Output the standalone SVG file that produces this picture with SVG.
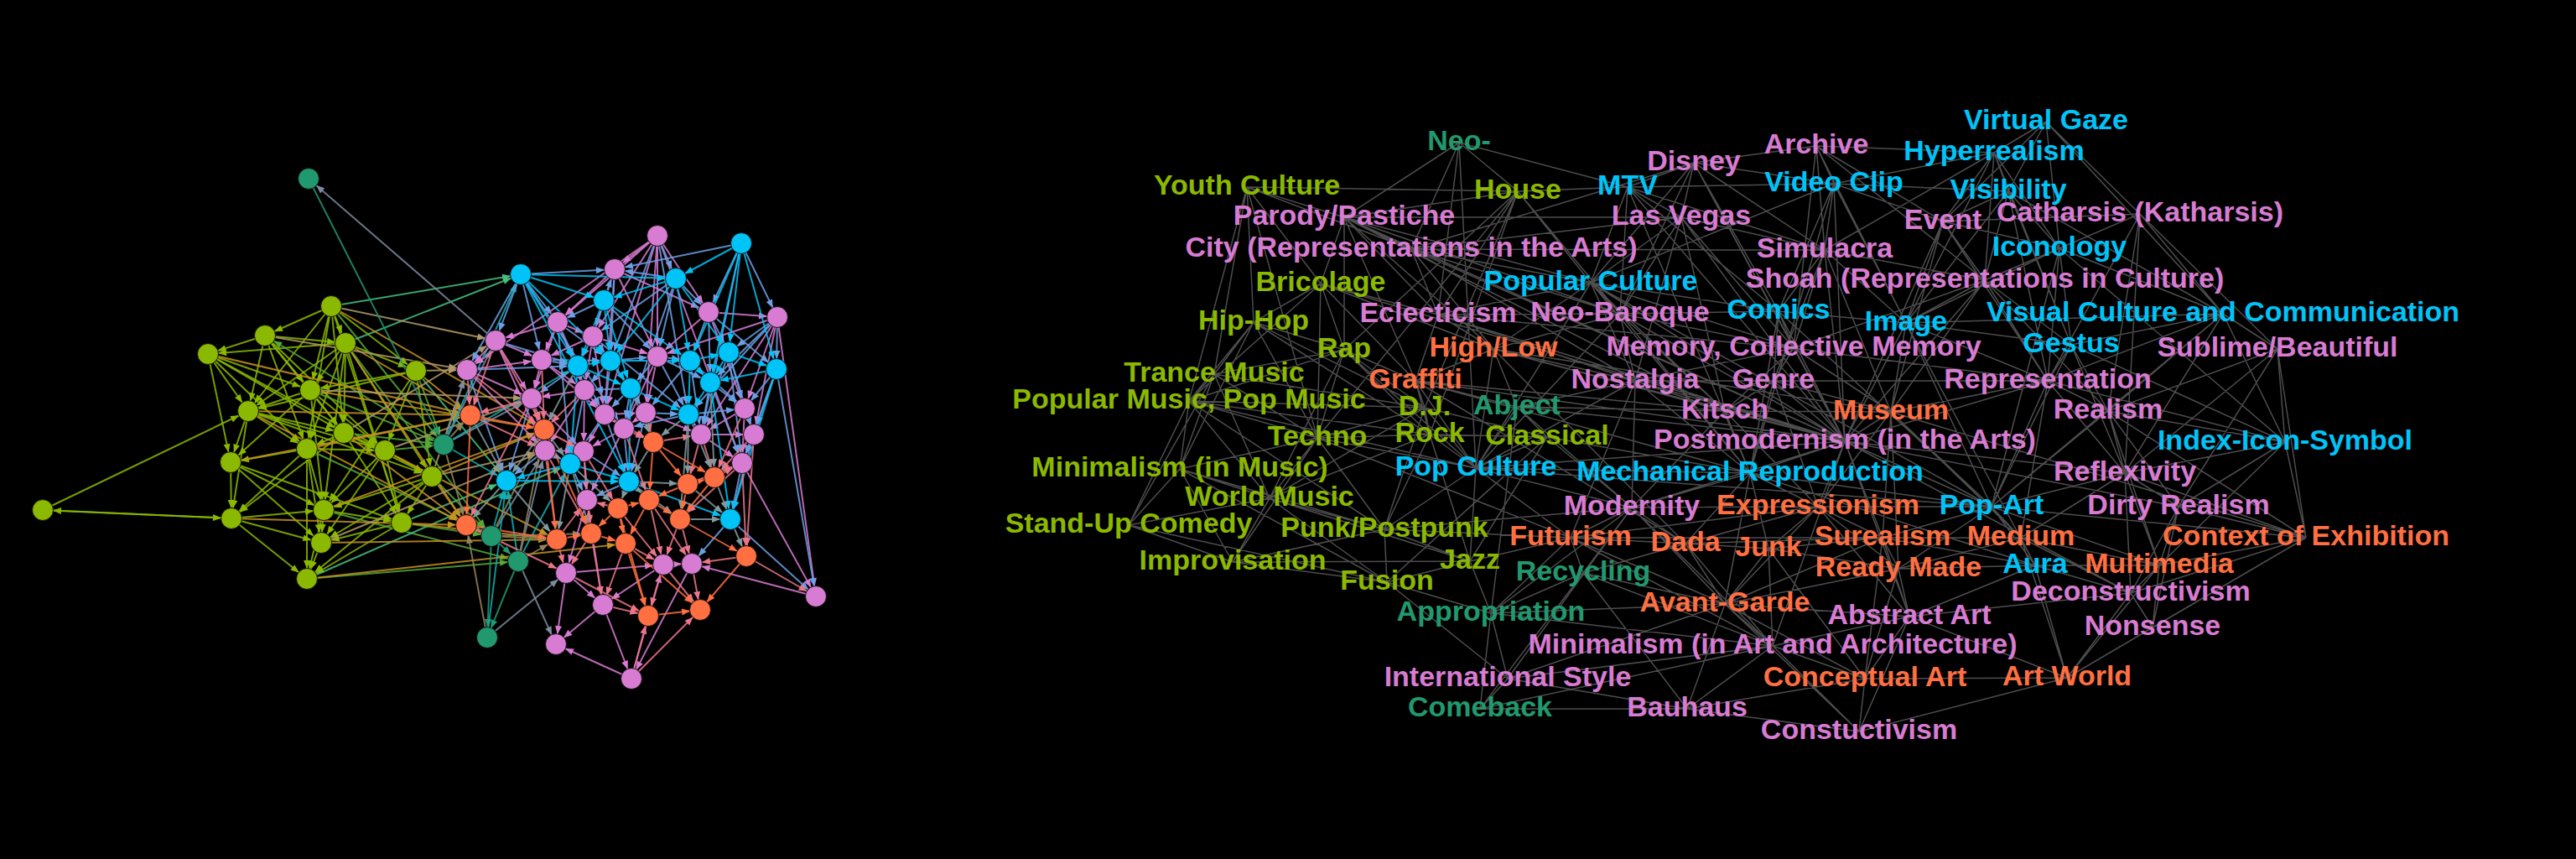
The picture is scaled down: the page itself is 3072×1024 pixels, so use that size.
<svg xmlns="http://www.w3.org/2000/svg" width="3072" height="1024" viewBox="0 0 3072 1024">
<style>
.nd circle{stroke:#141414;stroke-width:1}
.g{fill:#8BB800}.t{fill:#21996E}.p{fill:#D87BD2}.c{fill:#00C4F8}.o{fill:#FF6F41}
.lb text{font-family:"Liberation Sans",Arial,sans-serif;font-size:34px;font-weight:bold;text-anchor:middle}
.le path{fill:none}
</style>
<defs>
<marker id="a-gg" markerUnits="userSpaceOnUse" markerWidth="30" markerHeight="30" orient="auto" overflow="visible"><path d="M-22-4L-12 0L-22 4z" fill="#8BB800"/></marker>
<marker id="a-gt" markerUnits="userSpaceOnUse" markerWidth="30" markerHeight="30" orient="auto" overflow="visible"><path d="M-22-4L-12 0L-22 4z" fill="#56A837"/></marker>
<marker id="a-gc" markerUnits="userSpaceOnUse" markerWidth="30" markerHeight="30" orient="auto" overflow="visible"><path d="M-22-4L-12 0L-22 4z" fill="#46BE7C"/></marker>
<marker id="a-go" markerUnits="userSpaceOnUse" markerWidth="30" markerHeight="30" orient="auto" overflow="visible"><path d="M-22-4L-12 0L-22 4z" fill="#C59320"/></marker>
<marker id="a-gp" markerUnits="userSpaceOnUse" markerWidth="30" markerHeight="30" orient="auto" overflow="visible"><path d="M-22-4L-12 0L-22 4z" fill="#B19969"/></marker>
<marker id="a-tt" markerUnits="userSpaceOnUse" markerWidth="30" markerHeight="30" orient="auto" overflow="visible"><path d="M-22-4L-12 0L-22 4z" fill="#21996E"/></marker>
<marker id="a-tp" markerUnits="userSpaceOnUse" markerWidth="30" markerHeight="30" orient="auto" overflow="visible"><path d="M-22-4L-12 0L-22 4z" fill="#7D8AA0"/></marker>
<marker id="a-tc" markerUnits="userSpaceOnUse" markerWidth="30" markerHeight="30" orient="auto" overflow="visible"><path d="M-22-4L-12 0L-22 4z" fill="#11AFB3"/></marker>
<marker id="a-to" markerUnits="userSpaceOnUse" markerWidth="30" markerHeight="30" orient="auto" overflow="visible"><path d="M-22-4L-12 0L-22 4z" fill="#908458"/></marker>
<marker id="a-pp" markerUnits="userSpaceOnUse" markerWidth="30" markerHeight="30" orient="auto" overflow="visible"><path d="M-22-4L-12 0L-22 4z" fill="#D87BD2"/></marker>
<marker id="a-pc" markerUnits="userSpaceOnUse" markerWidth="30" markerHeight="30" orient="auto" overflow="visible"><path d="M-22-4L-12 0L-22 4z" fill="#6CA0E5"/></marker>
<marker id="a-cc" markerUnits="userSpaceOnUse" markerWidth="30" markerHeight="30" orient="auto" overflow="visible"><path d="M-22-4L-12 0L-22 4z" fill="#00C4F8"/></marker>
<marker id="a-po" markerUnits="userSpaceOnUse" markerWidth="30" markerHeight="30" orient="auto" overflow="visible"><path d="M-22-4L-12 0L-22 4z" fill="#EC758A"/></marker>
<marker id="a-co" markerUnits="userSpaceOnUse" markerWidth="30" markerHeight="30" orient="auto" overflow="visible"><path d="M-22-4L-12 0L-22 4z" fill="#809A9D"/></marker>
<marker id="a-oo" markerUnits="userSpaceOnUse" markerWidth="30" markerHeight="30" orient="auto" overflow="visible"><path d="M-22-4L-12 0L-22 4z" fill="#FF6F41"/></marker>
</defs>
<rect x="0" y="0" width="3072" height="1024" fill="#000"/>

<g id="connectors">
<g id="edges-left" class="le" stroke-width="2" stroke-opacity="0.85">
<g stroke="#8BB800" marker-end="url(#a-gg)">
<path d="M395 365L316 400"/><path d="M395 365L412 409"/><path d="M395 365L496 442"/><path d="M395 365L370 465"/><path d="M395 365L296 490"/><path d="M395 365L366 535"/><path d="M395 365L410 516"/><path d="M395 365L479 623"/>
<path d="M316 400L412 409"/><path d="M316 400L248 422"/><path d="M316 400L370 465"/><path d="M316 400L296 490"/><path d="M316 400L410 516"/><path d="M316 400L366 535"/><path d="M316 400L459 537"/>
<path d="M412 409L248 422"/><path d="M412 409L496 442"/><path d="M412 409L370 465"/><path d="M412 409L296 490"/><path d="M412 409L410 516"/><path d="M412 409L366 535"/><path d="M412 409L515 568"/><path d="M412 409L386 608"/><path d="M412 409L479 623"/>
<path d="M248 422L370 465"/><path d="M248 422L296 490"/><path d="M248 422L410 516"/><path d="M248 422L459 537"/><path d="M248 422L275 551"/><path d="M248 422L366 535"/>
<path d="M496 442L370 465"/><path d="M496 442L296 490"/><path d="M496 442L459 537"/><path d="M496 442L515 568"/><path d="M496 442L386 608"/>
<path d="M370 465L296 490"/><path d="M370 465L410 516"/><path d="M370 465L459 537"/><path d="M370 465L275 551"/><path d="M370 465L386 608"/>
<path d="M296 490L410 516"/><path d="M296 490L366 535"/><path d="M296 490L459 537"/><path d="M296 490L275 551"/><path d="M296 490L276 618"/><path d="M296 490L515 568"/>
<path d="M410 516L366 535"/><path d="M410 516L459 537"/><path d="M410 516L515 568"/><path d="M410 516L276 618"/><path d="M410 516L479 623"/>
<path d="M366 535L459 537"/><path d="M366 535L275 551"/><path d="M366 535L276 618"/><path d="M366 535L386 608"/><path d="M366 535L383 647"/><path d="M366 535L366 690"/>
<path d="M459 537L515 568"/><path d="M459 537L479 623"/><path d="M459 537L386 608"/><path d="M459 537L383 647"/>
<path d="M51 608L296 490"/><path d="M51 608L276 618"/><path d="M276 618L51 608"/>
<path d="M275 551L276 618"/><path d="M275 551L386 608"/><path d="M275 551L383 647"/><path d="M275 551L479 623"/>
<path d="M515 568L386 608"/><path d="M515 568L479 623"/><path d="M515 568L383 647"/><path d="M515 568L366 690"/>
<path d="M276 618L386 608"/><path d="M276 618L383 647"/><path d="M276 618L366 690"/>
<path d="M386 608L479 623"/><path d="M386 608L383 647"/><path d="M386 608L366 690"/>
<path d="M479 623L383 647"/><path d="M479 623L366 690"/><path d="M383 647L366 690"/>
</g>
<g stroke="#56A837" marker-end="url(#a-gt)">
<path d="M395 365L529 530"/><path d="M529 530L316 400"/><path d="M412 409L586 639"/><path d="M496 442L529 530"/><path d="M410 516L529 530"/><path d="M366 535L586 639"/><path d="M459 537L529 530"/><path d="M515 568L586 639"/><path d="M386 608L618 669"/><path d="M479 623L586 639"/><path d="M366 690L618 669"/><path d="M370 465L529 530"/>
</g>
<g stroke="#46BE7C" marker-end="url(#a-gc)">
<path d="M395 365L621 327"/><path d="M412 409L621 327"/><path d="M479 623L604 573"/><path d="M366 690L680 553"/><path d="M496 442L604 573"/>
</g>
<g stroke="#C59320" marker-end="url(#a-go)">
<path d="M412 409L561 495"/><path d="M412 409L556 626"/><path d="M496 442L561 495"/><path d="M296 490L561 495"/><path d="M296 490L556 626"/><path d="M410 516L556 626"/><path d="M366 535L561 495"/><path d="M459 537L664 643"/><path d="M515 568L556 626"/><path d="M515 568L649 512"/><path d="M386 608L649 512"/><path d="M479 623L664 643"/><path d="M383 647L664 643"/><path d="M366 690L746 648"/><path d="M276 618L556 626"/><path d="M275 551L561 495"/><path d="M370 465L649 512"/><path d="M248 422L561 495"/><path d="M395 365L649 512"/>
</g>
<g stroke="#B19969" marker-end="url(#a-gp)">
<path d="M496 442L557 441"/><path d="M410 516L591 406"/><path d="M459 537L634 475"/><path d="M515 568L557 441"/><path d="M515 568L650 537"/><path d="M383 647L650 537"/><path d="M316 400L557 441"/><path d="M395 365L591 406"/><path d="M370 465L634 475"/>
</g>
<g stroke="#21996E" marker-end="url(#a-tt)">
<path d="M368 213L529 530"/><path d="M586 639L618 669"/><path d="M586 639L581 760"/><path d="M618 669L581 760"/>
</g>
<g stroke="#7D8AA0" marker-end="url(#a-tp)">
<path d="M591 406L368 213"/><path d="M529 530L557 441"/><path d="M529 530L591 406"/><path d="M529 530L634 475"/><path d="M586 639L650 537"/><path d="M618 669L650 537"/><path d="M618 669L663 768"/><path d="M581 760L675 683"/>
</g>
<g stroke="#11AFB3" marker-end="url(#a-tc)">
<path d="M529 530L621 327"/><path d="M529 530L604 573"/><path d="M586 639L604 573"/><path d="M618 669L604 573"/><path d="M618 669L680 553"/><path d="M581 760L604 573"/><path d="M529 530L689 436"/>
</g>
<g stroke="#908458" marker-end="url(#a-to)">
<path d="M529 530L561 495"/><path d="M529 530L556 626"/><path d="M586 639L556 626"/><path d="M586 639L664 643"/><path d="M586 639L705 636"/><path d="M618 669L664 643"/><path d="M581 760L556 626"/><path d="M586 639L649 512"/><path d="M618 669L649 512"/>
</g>
<g stroke="#D87BD2" marker-end="url(#a-pp)">
<path d="M784 281L733 321"/><path d="M784 281L665 384"/><path d="M784 281L707 401"/><path d="M784 281L845 372"/><path d="M784 281L784 425"/><path d="M784 281L770 492"/><path d="M784 281L721 494"/><path d="M784 281L557 441"/><path d="M784 281L885 552"/>
<path d="M733 321L665 384"/><path d="M733 321L707 401"/><path d="M733 321L784 425"/><path d="M733 321L845 372"/><path d="M733 321L721 494"/>
<path d="M845 372L927 378"/><path d="M845 372L784 425"/><path d="M845 372L888 487"/>
<path d="M927 378L888 487"/><path d="M927 378L899 518"/><path d="M927 378L836 518"/><path d="M927 378L784 425"/><path d="M927 378L973 711"/>
<path d="M665 384L707 401"/><path d="M665 384L591 406"/><path d="M665 384L646 429"/><path d="M665 384L697 465"/><path d="M665 384L634 475"/>
<path d="M707 401L646 429"/><path d="M707 401L784 425"/><path d="M707 401L697 465"/><path d="M707 401L721 494"/>
<path d="M591 406L557 441"/><path d="M591 406L646 429"/><path d="M591 406L634 475"/><path d="M591 406L650 537"/>
<path d="M557 441L646 429"/><path d="M557 441L634 475"/><path d="M557 441L650 537"/>
<path d="M646 429L697 465"/><path d="M646 429L634 475"/><path d="M646 429L721 494"/>
<path d="M784 425L770 492"/><path d="M784 425L744 511"/>
<path d="M697 465L634 475"/><path d="M697 465L721 494"/><path d="M697 465L650 537"/><path d="M697 465L696 538"/>
<path d="M634 475L650 537"/><path d="M634 475L696 538"/>
<path d="M721 494L770 492"/><path d="M721 494L744 511"/><path d="M721 494L696 538"/>
<path d="M770 492L744 511"/><path d="M770 492L836 518"/>
<path d="M888 487L836 518"/><path d="M888 487L899 518"/><path d="M888 487L885 552"/>
<path d="M744 511L696 538"/><path d="M744 511L700 596"/>
<path d="M836 518L899 518"/><path d="M836 518L885 552"/><path d="M899 518L885 552"/>
<path d="M650 537L696 538"/><path d="M696 538L700 596"/><path d="M885 552L973 711"/>
<path d="M700 596L675 683"/><path d="M700 596L719 721"/><path d="M675 683L719 721"/><path d="M675 683L663 768"/><path d="M675 683L791 673"/>
<path d="M791 673L825 672"/><path d="M791 673L719 721"/><path d="M825 672L753 809"/>
<path d="M719 721L663 768"/><path d="M719 721L753 809"/><path d="M753 809L663 768"/><path d="M753 809L791 673"/><path d="M973 711L825 672"/>
</g>
<g stroke="#6CA0E5" marker-end="url(#a-pc)">
<path d="M784 281L806 332"/><path d="M784 281L728 430"/><path d="M784 281L821 494"/>
<path d="M884 290L845 372"/><path d="M884 290L733 321"/><path d="M884 290L927 378"/><path d="M884 290L836 518"/>
<path d="M806 332L733 321"/><path d="M806 332L845 372"/><path d="M806 332L784 425"/><path d="M806 332L707 401"/><path d="M806 332L744 511"/>
<path d="M621 327L591 406"/><path d="M621 327L665 384"/><path d="M621 327L646 429"/><path d="M621 327L557 441"/><path d="M621 327L733 321"/><path d="M621 327L744 511"/>
<path d="M720 358L733 321"/><path d="M720 358L665 384"/><path d="M720 358L707 401"/><path d="M720 358L784 425"/>
<path d="M733 321L728 430"/><path d="M845 372L869 420"/><path d="M845 372L823 430"/><path d="M845 372L847 456"/><path d="M845 372L926 440"/>
<path d="M927 378L926 440"/><path d="M927 378L869 420"/><path d="M927 378L847 456"/><path d="M927 378L821 494"/>
<path d="M665 384L689 436"/><path d="M665 384L728 430"/><path d="M665 384L680 553"/>
<path d="M707 401L689 436"/><path d="M707 401L728 430"/><path d="M707 401L752 463"/><path d="M707 401L821 494"/>
<path d="M591 406L689 436"/><path d="M557 441L604 573"/><path d="M557 441L689 436"/><path d="M646 429L689 436"/><path d="M646 429L728 430"/>
<path d="M689 436L697 465"/><path d="M689 436L634 475"/><path d="M689 436L721 494"/>
<path d="M728 430L784 425"/><path d="M728 430L697 465"/><path d="M728 430L721 494"/><path d="M728 430L770 492"/>
<path d="M784 425L823 430"/><path d="M784 425L752 463"/><path d="M784 425L821 494"/><path d="M784 425L847 456"/>
<path d="M823 430L888 487"/><path d="M823 430L836 518"/><path d="M823 430L770 492"/>
<path d="M869 420L888 487"/><path d="M869 420L836 518"/><path d="M869 420L899 518"/><path d="M869 420L885 552"/>
<path d="M926 440L888 487"/><path d="M926 440L899 518"/><path d="M926 440L885 552"/><path d="M926 440L973 711"/>
<path d="M847 456L888 487"/><path d="M847 456L836 518"/><path d="M847 456L885 552"/>
<path d="M752 463L721 494"/><path d="M752 463L770 492"/><path d="M752 463L744 511"/><path d="M752 463L697 465"/>
<path d="M697 465L680 553"/><path d="M634 475L604 573"/><path d="M721 494L750 574"/><path d="M721 494L680 553"/>
<path d="M770 492L821 494"/><path d="M770 492L750 574"/>
<path d="M821 494L888 487"/><path d="M821 494L836 518"/><path d="M821 494L744 511"/>
<path d="M744 511L750 574"/><path d="M899 518L871 619"/><path d="M650 537L680 553"/><path d="M650 537L604 573"/><path d="M696 538L680 553"/><path d="M696 538L750 574"/>
<path d="M680 553L700 596"/><path d="M750 574L700 596"/><path d="M885 552L871 619"/><path d="M871 619L973 711"/><path d="M871 619L825 672"/>
</g>
<g stroke="#00C4F8" marker-end="url(#a-cc)">
<path d="M884 290L806 332"/><path d="M884 290L823 430"/><path d="M884 290L869 420"/><path d="M884 290L926 440"/><path d="M884 290L847 456"/>
<path d="M806 332L720 358"/><path d="M806 332L823 430"/><path d="M806 332L869 420"/><path d="M806 332L728 430"/>
<path d="M621 327L720 358"/><path d="M621 327L689 436"/><path d="M621 327L728 430"/><path d="M621 327L806 332"/><path d="M621 327L750 574"/>
<path d="M720 358L689 436"/><path d="M720 358L728 430"/><path d="M720 358L823 430"/><path d="M720 358L752 463"/>
<path d="M689 436L728 430"/><path d="M689 436L752 463"/><path d="M689 436L680 553"/>
<path d="M728 430L752 463"/><path d="M728 430L823 430"/>
<path d="M823 430L869 420"/><path d="M823 430L847 456"/><path d="M823 430L821 494"/>
<path d="M869 420L926 440"/><path d="M869 420L847 456"/><path d="M926 440L847 456"/><path d="M926 440L871 619"/>
<path d="M847 456L821 494"/><path d="M847 456L871 619"/><path d="M752 463L821 494"/><path d="M752 463L750 574"/>
<path d="M680 553L604 573"/><path d="M680 553L750 574"/><path d="M604 573L750 574"/><path d="M750 574L871 619"/>
</g>
<g stroke="#EC758A" marker-end="url(#a-po)">
<path d="M591 406L561 495"/><path d="M591 406L649 512"/><path d="M557 441L561 495"/><path d="M557 441L649 512"/><path d="M646 429L649 512"/><path d="M697 465L649 512"/>
<path d="M634 475L561 495"/><path d="M634 475L649 512"/><path d="M634 475L556 626"/>
<path d="M721 494L779 527"/><path d="M770 492L779 527"/><path d="M744 511L779 527"/><path d="M744 511L774 596"/>
<path d="M779 527L836 518"/><path d="M836 518L852 569"/><path d="M836 518L820 577"/><path d="M899 518L852 569"/><path d="M899 518L890 663"/>
<path d="M561 495L650 537"/><path d="M649 512L650 537"/><path d="M649 512L696 538"/><path d="M888 487L852 569"/>
<path d="M650 537L664 643"/><path d="M650 537L705 636"/><path d="M696 538L705 636"/><path d="M696 538L737 606"/>
<path d="M820 577L885 552"/><path d="M852 569L885 552"/><path d="M885 552L811 619"/><path d="M885 552L890 663"/>
<path d="M737 606L700 596"/><path d="M737 606L791 673"/><path d="M774 596L791 673"/><path d="M774 596L825 672"/><path d="M811 619L825 672"/><path d="M811 619L791 673"/>
<path d="M556 626L675 683"/><path d="M664 643L675 683"/><path d="M664 643L700 596"/><path d="M705 636L700 596"/><path d="M705 636L675 683"/><path d="M705 636L719 721"/>
<path d="M746 648L791 673"/><path d="M746 648L719 721"/><path d="M890 663L973 711"/><path d="M890 663L825 672"/>
<path d="M675 683L773 734"/><path d="M791 673L773 734"/><path d="M791 673L835 727"/><path d="M825 672L835 727"/><path d="M719 721L773 734"/><path d="M753 809L773 734"/><path d="M753 809L835 727"/>
</g>
<g stroke="#809A9D" marker-end="url(#a-co)">
<path d="M752 463L779 527"/><path d="M821 494L779 527"/><path d="M821 494L852 569"/><path d="M821 494L820 577"/><path d="M847 456L852 569"/><path d="M689 436L649 512"/>
<path d="M680 553L664 643"/><path d="M680 553L705 636"/><path d="M680 553L737 606"/><path d="M649 512L680 553"/><path d="M649 512L604 573"/><path d="M561 495L604 573"/>
<path d="M604 573L556 626"/><path d="M604 573L664 643"/><path d="M750 574L737 606"/><path d="M750 574L774 596"/><path d="M750 574L820 577"/><path d="M750 574L811 619"/>
<path d="M779 527L750 574"/><path d="M820 577L871 619"/><path d="M852 569L871 619"/><path d="M811 619L871 619"/><path d="M871 619L890 663"/><path d="M821 494L811 619"/>
</g>
<g stroke="#FF6F41" marker-end="url(#a-oo)">
<path d="M561 495L649 512"/><path d="M561 495L556 626"/><path d="M649 512L664 643"/><path d="M649 512L705 636"/>
<path d="M779 527L820 577"/><path d="M779 527L774 596"/><path d="M779 527L852 569"/><path d="M820 577L852 569"/><path d="M820 577L774 596"/><path d="M820 577L811 619"/><path d="M852 569L811 619"/>
<path d="M737 606L774 596"/><path d="M737 606L705 636"/><path d="M737 606L746 648"/><path d="M774 596L811 619"/><path d="M774 596L746 648"/><path d="M811 619L890 663"/>
<path d="M556 626L664 643"/><path d="M664 643L705 636"/><path d="M705 636L746 648"/><path d="M746 648L773 734"/><path d="M890 663L835 727"/><path d="M773 734L835 727"/><path d="M746 648L835 727"/><path d="M737 606L773 734"/>
</g>
</g>

<g id="edges-right">
<path fill="none" stroke="#9a9a9a" stroke-width="1.5" stroke-opacity="0.5" d="M1740 170L1603 259M1740 170L1683 297M1740 170L1715 375M1740 170L1760 558M1740 170L1941 223M1740 170L1810 228
M1487 223L1810 228M1487 223L1495 384M1487 223L1448 446M1487 223L1575 338M1487 223L1418 478M1487 223L1683 297M1487 223L1603 259M1487 223L1571 522
M1810 228L1603 259M1810 228L1941 223M1810 228L1715 375M1810 228L1603 417M1810 228L1699 486M1810 228L1705 518M1810 228L1571 522M1810 228L1897 337M1810 228L1932 374
M1603 259L1683 297M1603 259L1575 338M1603 259L1715 375M1603 259L1781 416M1603 259L1688 454M1603 259L2005 259M1603 259L1897 337M1603 259L1932 374M1603 259L2200 526M1603 259L2057 490M1603 259L1603 417
M1683 297L2020 194M1683 297L2005 259M1683 297L1715 375M1683 297L1897 337M1683 297L1932 374M1683 297L2176 298M1683 297L1950 454M1683 297L2200 526M1683 297L1781 416
M1575 338L1495 384M1575 338L1603 417M1575 338L1715 375M1575 338L1571 522M1575 338L1418 478M1575 338L1688 454M1575 338L2200 526M1575 338L1781 416
M1495 384L1603 417M1495 384L1448 446M1495 384L1418 478M1495 384L1571 522M1495 384L1407 559M1495 384L1699 486M1495 384L1705 518
M1603 417L1448 446M1603 417L1418 478M1603 417L1699 486M1603 417L1571 522M1603 417L1705 518M1603 417L1688 454M1603 417L1760 558M1603 417L1514 594
M1715 375L1781 416M1715 375L1932 374M1715 375L1897 337M1715 375L2200 526M1715 375L1688 454M1715 375L1950 454M1715 375L2139 415M1715 375L2057 490
M1781 416L1688 454M1781 416L1897 337M1781 416L1760 558M1781 416L2200 526M1781 416L2057 490M1781 416L1932 374M1781 416L1950 454M1781 416L1809 485M1781 416L2255 491M1781 416L2010 648
M1448 446L1418 478M1448 446L1571 522M1448 446L1407 559M1448 446L1514 594M1448 446L1699 486M1448 446L1346 626
M1688 454L1760 558M1688 454L1809 485M1688 454L1705 518M1688 454L2200 526M1688 454L2087 564M1688 454L2057 490M1688 454L1699 486M1688 454L2010 648
M1418 478L1571 522M1418 478L1407 559M1418 478L1705 518M1418 478L1514 594M1418 478L1699 486M1418 478L1651 631M1418 478L1760 558M1418 478L1346 626
M1699 486L1571 522M1699 486L1705 518M1699 486L1760 558M1699 486L1845 521M1699 486L1514 594M1699 486L1651 631
M1809 485L1778 731M1809 485L1950 454M1809 485L1946 605M1809 485L2057 490M1809 485L2200 526M1809 485L1845 521M1809 485L1760 558
M1571 522L1407 559M1571 522L1514 594M1571 522L1705 518M1571 522L1651 631M1571 522L1760 558M1571 522L1470 670M1571 522L1873 641
M1705 518L1845 521M1705 518L1760 558M1705 518L1651 631M1705 518L1753 669M1705 518L1514 594
M1845 521L1760 558M1845 521L1753 669M1845 521L1654 694M1845 521L2087 564M1845 521L1946 605
M1407 559L1514 594M1407 559L1346 626M1407 559L1470 670M1407 559L1651 631M1407 559L1654 694
M1760 558L1897 337M1760 558L2087 564M1760 558L1946 605M1760 558L1651 631M1760 558L1753 669M1760 558L2200 526M1760 558L1932 374M1760 558L1950 454M1760 558L2375 604M1760 558L1873 641
M1514 594L1346 626M1514 594L1651 631M1514 594L1470 670M1514 594L1654 694M1514 594L1753 669
M1346 626L1470 670M1346 626L1654 694
M1651 631L1470 670M1651 631L1753 669M1651 631L1654 694M1651 631L1873 641M1651 631L1946 605
M1470 670L1654 694M1470 670L1753 669
M1753 669L1654 694M1753 669L1778 731M1753 669L1873 641
M1654 694L1778 731M1654 694L1798 809
M1778 731L1798 809M1778 731L1765 845M1778 731L1888 683M1778 731L1873 641M1778 731L1946 605M1778 731L2057 720M1778 731L2114 770
M1798 809L1765 845M1798 809L2114 770M1798 809L2012 845M1798 809L2057 720M1798 809L1946 605
M1765 845L2012 845M1765 845L2114 770M1765 845L1888 683
M2020 194L2166 174M2020 194L1941 223M2020 194L2187 219M2020 194L2005 259M2020 194L2176 298M2020 194L1897 337M2020 194L1932 374M2020 194L2200 526M2020 194L2121 371M2020 194L2139 415
M2166 174L2187 219M2166 174L2378 182M2166 174L2176 298M2166 174L2139 415M2166 174L2317 264M2166 174L2367 334M2166 174L2273 385
M2378 182L2440 145M2378 182L2187 219M2378 182L2395 228M2378 182L2317 264M2378 182L2176 298M2378 182L2456 296M2378 182L2273 385M2378 182L2367 334M2378 182L2200 526M2378 182L2470 411
M2440 145L2395 228M2440 145L2552 255M2440 145L2317 264M2440 145L2456 296M2440 145L2651 374
M1941 223L2187 219M1941 223L2005 259M1941 223L1897 337M1941 223L2121 371M1941 223L1932 374M1941 223L2200 526M1941 223L2087 564M1941 223L2176 298
M2187 219L2395 228M2187 219L2317 264M2187 219L2176 298M2187 219L2121 371M2187 219L2273 385M2187 219L2087 564M2187 219L2200 526M2187 219L1897 337
M2395 228L2317 264M2395 228L2456 296M2395 228L2273 385M2395 228L2651 374M2395 228L2470 411M2395 228L2367 334M2395 228L2442 454
M2005 259L2176 298M2005 259L1932 374M2005 259L1897 337M2005 259L2200 526M2005 259L1950 454M2005 259L2057 490M2005 259L2139 415
M2317 264L2552 255M2317 264L2456 296M2317 264L2367 334M2317 264L2273 385M2317 264L2442 454M2317 264L2255 491M2317 264L2200 526
M2552 255L2456 296M2552 255L2367 334M2552 255L2651 374M2552 255L2716 416M2552 255L2442 454M2552 255L2514 490M2552 255L2534 564
M2176 298L2367 334M2176 298L2121 371M2176 298L2273 385M2176 298L2139 415M2176 298L2200 526M2176 298L2115 454M2176 298L2255 491
M2456 296L2367 334M2456 296L2273 385M2456 296L2651 374M2456 296L2470 411M2456 296L2442 454M2456 296L2375 604M2456 296L2725 527
M1897 337L1932 374M1897 337L2121 371M1897 337L1950 454M1897 337L2057 490M1897 337L2200 526M1897 337L2087 564M1897 337L2139 415M1897 337L2375 604
M2367 334L2273 385M2367 334L2139 415M2367 334L2442 454M2367 334L2255 491M2367 334L2200 526M2367 334L2470 411M2367 334L2514 490
M1932 374L2121 371M1932 374L2139 415M1932 374L1950 454M1932 374L2057 490M1932 374L2200 526M1932 374L2087 564
M2121 371L2273 385M2121 371L2139 415M2121 371L2115 454M2121 371L2200 526M2121 371L2087 564M2121 371L2375 604
M2273 385L2470 411M2273 385L2442 454M2273 385L2651 374M2273 385L2255 491M2273 385L2200 526M2273 385L2375 604M2273 385L2427 674
M2651 374L2470 411M2651 374L2716 416M2651 374L2442 454M2651 374L2725 527M2651 374L2514 490M2651 374L2534 564M2651 374L2375 604
M2139 415L1950 454M2139 415L2115 454M2139 415L2442 454M2139 415L2057 490M2139 415L2255 491M2139 415L2200 526
M2470 411L2442 454M2470 411L2514 490M2470 411L2725 527M2470 411L2375 604M2470 411L2534 564
M2716 416L2725 527M2716 416L2534 564M2716 416L2598 604M2716 416L2750 641M2716 416L2514 490
M1950 454L2115 454M1950 454L2057 490M1950 454L2200 526M1950 454L2087 564M1950 454L1946 605M1950 454L1873 641
M2115 454L2057 490M2115 454L2255 491M2115 454L2200 526M2115 454L2087 564M2115 454L2168 604M2115 454L2442 454
M2442 454L2255 491M2442 454L2514 490M2442 454L2200 526M2442 454L2375 604M2442 454L2534 564M2442 454L2410 641M2442 454L2725 527
M2057 490L2200 526M2057 490L2087 564M2057 490L1946 605M2057 490L2168 604M2057 490L2255 491
M2255 491L2200 526M2255 491L2168 604M2255 491L2375 604M2255 491L2245 641M2255 491L2750 641M2255 491L2264 678M2255 491L2410 641
M2514 490L2725 527M2514 490L2534 564M2514 490L2598 604M2514 490L2375 604M2514 490L2575 674
M2200 526L2087 564M2200 526L2168 604M2200 526L2375 604M2200 526L2534 564M2200 526L2245 641M2200 526L1946 605M2200 526L2541 707M2200 526L2277 735M2200 526L2114 770M2200 526L2598 604
M2725 527L2534 564M2725 527L2598 604M2725 527L2750 641M2725 527L2575 674
M2087 564L1946 605M2087 564L2168 604M2087 564L2375 604M2087 564L2010 648M2087 564L2109 654M2087 564L2057 720M2087 564L2427 674
M1946 605L2168 604M1946 605L1873 641M1946 605L2010 648M1946 605L1888 683M1946 605L2057 720M1946 605L2114 770
M2168 604L2375 604M2168 604L2010 648M2168 604L2109 654M2168 604L2245 641M2168 604L1873 641M2168 604L2057 720M2168 604L2277 735M2168 604L2264 678
M2375 604L2245 641M2375 604L2410 641M2375 604L2427 674M2375 604L2534 564M2375 604L2264 678M2375 604L2575 674
M2534 564L2598 604M2534 564L2410 641M2534 564L2575 674M2534 564L2750 641M2534 564L2541 707
M2598 604L2750 641M2598 604L2575 674M2598 604L2541 707M2598 604L2567 748
M1873 641L2010 648M1873 641L1888 683M1873 641L2057 720M1873 641L2114 770M1873 641L2245 641
M2010 648L2109 654M2010 648L2057 720M2010 648L1888 683M2010 648L2245 641M2010 648L2114 770
M2109 654L2245 641M2109 654L2264 678M2109 654L2057 720M2109 654L2224 809M2109 654L2114 770
M2245 641L2410 641M2245 641L2264 678M2245 641L2277 735M2245 641L2224 809M2245 641L2427 674M2245 641L2057 720
M2410 641L2264 678M2410 641L2427 674M2410 641L2575 674M2410 641L2541 707M2410 641L2465 808
M2750 641L2575 674M2750 641L2541 707M2750 641L2567 748M2750 641L2465 808M2750 641L2514 490M2750 641L2375 604
M1888 683L2057 720M1888 683L2114 770M1888 683L2012 845
M2264 678L2427 674M2264 678L2277 735M2264 678L2224 809M2264 678L2057 720
M2427 674L2575 674M2427 674L2541 707M2427 674L2277 735M2427 674L2465 808
M2575 674L2541 707M2575 674L2567 748M2575 674L2465 808
M2541 707L2567 748M2541 707L2465 808M2541 707L2277 735
M2057 720L2277 735M2057 720L2114 770M2057 720L2224 809M2057 720L2012 845M2057 720L2217 872
M2277 735L2114 770M2277 735L2224 809M2277 735L2465 808M2277 735L2217 872
M2567 748L2465 808M2114 770L2224 809M2114 770L2012 845M2114 770L2217 872
M2224 809L2465 808M2224 809L2217 872M2224 809L2012 845M2465 808L2217 872M2012 845L2217 872"/>
</g>
</g>

<g id="nodes-left" class="nd">
<g id="l-g1"><circle class="g" cx="395" cy="365" r="12.5"/></g>
<g id="l-g2"><circle class="g" cx="316" cy="400" r="12.5"/></g>
<g id="l-g3"><circle class="g" cx="412" cy="409" r="12.5"/></g>
<g id="l-g4"><circle class="g" cx="248" cy="422" r="12.5"/></g>
<g id="l-g5"><circle class="g" cx="496" cy="442" r="12.5"/></g>
<g id="l-g6"><circle class="g" cx="370" cy="465" r="12.5"/></g>
<g id="l-g7"><circle class="g" cx="296" cy="490" r="12.5"/></g>
<g id="l-g8"><circle class="g" cx="410" cy="516" r="12.5"/></g>
<g id="l-g9"><circle class="g" cx="366" cy="535" r="12.5"/></g>
<g id="l-g10"><circle class="g" cx="459" cy="537" r="12.5"/></g>
<g id="l-g11"><circle class="g" cx="275" cy="551" r="12.5"/></g>
<g id="l-g12"><circle class="g" cx="515" cy="568" r="12.5"/></g>
<g id="l-g13"><circle class="g" cx="51" cy="608" r="12.5"/></g>
<g id="l-g14"><circle class="g" cx="276" cy="618" r="12.5"/></g>
<g id="l-g15"><circle class="g" cx="386" cy="608" r="12.5"/></g>
<g id="l-g16"><circle class="g" cx="479" cy="623" r="12.5"/></g>
<g id="l-g17"><circle class="g" cx="383" cy="647" r="12.5"/></g>
<g id="l-g18"><circle class="g" cx="366" cy="690" r="12.5"/></g>
<g id="l-t1"><circle class="t" cx="368" cy="213" r="12.5"/></g>
<g id="l-t2"><circle class="t" cx="529" cy="530" r="12.5"/></g>
<g id="l-t3"><circle class="t" cx="586" cy="639" r="12.5"/></g>
<g id="l-t4"><circle class="t" cx="618" cy="669" r="12.5"/></g>
<g id="l-t5"><circle class="t" cx="581" cy="760" r="12.5"/></g>
<g id="l-p1"><circle class="p" cx="784" cy="281" r="12.5"/></g>
<g id="l-p2"><circle class="p" cx="733" cy="321" r="12.5"/></g>
<g id="l-p3"><circle class="p" cx="845" cy="372" r="12.5"/></g>
<g id="l-p4"><circle class="p" cx="927" cy="378" r="12.5"/></g>
<g id="l-p5"><circle class="p" cx="665" cy="384" r="12.5"/></g>
<g id="l-p6"><circle class="p" cx="707" cy="401" r="12.5"/></g>
<g id="l-p7"><circle class="p" cx="591" cy="406" r="12.5"/></g>
<g id="l-p8"><circle class="p" cx="557" cy="441" r="12.5"/></g>
<g id="l-p9"><circle class="p" cx="646" cy="429" r="12.5"/></g>
<g id="l-p10"><circle class="p" cx="784" cy="425" r="12.5"/></g>
<g id="l-p11"><circle class="p" cx="697" cy="465" r="12.5"/></g>
<g id="l-p12"><circle class="p" cx="634" cy="475" r="12.5"/></g>
<g id="l-p13"><circle class="p" cx="721" cy="494" r="12.5"/></g>
<g id="l-p14"><circle class="p" cx="770" cy="492" r="12.5"/></g>
<g id="l-p15"><circle class="p" cx="888" cy="487" r="12.5"/></g>
<g id="l-p16"><circle class="p" cx="744" cy="511" r="12.5"/></g>
<g id="l-p17"><circle class="p" cx="836" cy="518" r="12.5"/></g>
<g id="l-p18"><circle class="p" cx="899" cy="518" r="12.5"/></g>
<g id="l-p19"><circle class="p" cx="650" cy="537" r="12.5"/></g>
<g id="l-p20"><circle class="p" cx="696" cy="538" r="12.5"/></g>
<g id="l-p21"><circle class="p" cx="885" cy="552" r="12.5"/></g>
<g id="l-p22"><circle class="p" cx="700" cy="596" r="12.5"/></g>
<g id="l-p23"><circle class="p" cx="675" cy="683" r="12.5"/></g>
<g id="l-p24"><circle class="p" cx="791" cy="673" r="12.5"/></g>
<g id="l-p25"><circle class="p" cx="825" cy="672" r="12.5"/></g>
<g id="l-p26"><circle class="p" cx="973" cy="711" r="12.5"/></g>
<g id="l-p27"><circle class="p" cx="719" cy="721" r="12.5"/></g>
<g id="l-p28"><circle class="p" cx="663" cy="768" r="12.5"/></g>
<g id="l-p29"><circle class="p" cx="753" cy="809" r="12.5"/></g>
<g id="l-c1"><circle class="c" cx="621" cy="327" r="12.5"/></g>
<g id="l-c2"><circle class="c" cx="884" cy="290" r="12.5"/></g>
<g id="l-c3"><circle class="c" cx="806" cy="332" r="12.5"/></g>
<g id="l-c4"><circle class="c" cx="720" cy="358" r="12.5"/></g>
<g id="l-c5"><circle class="c" cx="689" cy="436" r="12.5"/></g>
<g id="l-c6"><circle class="c" cx="728" cy="430" r="12.5"/></g>
<g id="l-c7"><circle class="c" cx="823" cy="430" r="12.5"/></g>
<g id="l-c8"><circle class="c" cx="869" cy="420" r="12.5"/></g>
<g id="l-c9"><circle class="c" cx="926" cy="440" r="12.5"/></g>
<g id="l-c10"><circle class="c" cx="847" cy="456" r="12.5"/></g>
<g id="l-c11"><circle class="c" cx="752" cy="463" r="12.5"/></g>
<g id="l-c12"><circle class="c" cx="821" cy="494" r="12.5"/></g>
<g id="l-c13"><circle class="c" cx="680" cy="553" r="12.5"/></g>
<g id="l-c14"><circle class="c" cx="604" cy="573" r="12.5"/></g>
<g id="l-c15"><circle class="c" cx="750" cy="574" r="12.5"/></g>
<g id="l-c16"><circle class="c" cx="871" cy="619" r="12.5"/></g>
<g id="l-o1"><circle class="o" cx="561" cy="495" r="12.5"/></g>
<g id="l-o2"><circle class="o" cx="649" cy="512" r="12.5"/></g>
<g id="l-o3"><circle class="o" cx="779" cy="527" r="12.5"/></g>
<g id="l-o4"><circle class="o" cx="820" cy="577" r="12.5"/></g>
<g id="l-o5"><circle class="o" cx="852" cy="569" r="12.5"/></g>
<g id="l-o6"><circle class="o" cx="737" cy="606" r="12.5"/></g>
<g id="l-o7"><circle class="o" cx="774" cy="596" r="12.5"/></g>
<g id="l-o8"><circle class="o" cx="811" cy="619" r="12.5"/></g>
<g id="l-o9"><circle class="o" cx="556" cy="626" r="12.5"/></g>
<g id="l-o10"><circle class="o" cx="664" cy="643" r="12.5"/></g>
<g id="l-o11"><circle class="o" cx="705" cy="636" r="12.5"/></g>
<g id="l-o12"><circle class="o" cx="746" cy="648" r="12.5"/></g>
<g id="l-o13"><circle class="o" cx="890" cy="663" r="12.5"/></g>
<g id="l-o14"><circle class="o" cx="773" cy="734" r="12.5"/></g>
<g id="l-o15"><circle class="o" cx="835" cy="727" r="12.5"/></g>
</g>

<g id="nodes-right" class="lb">
<g id="r-neo"><text class="t" x="1740" y="179">Neo-</text></g>
<g id="r-youth-culture"><text class="g" x="1487" y="232">Youth Culture</text></g>
<g id="r-house"><text class="g" x="1810" y="237">House</text></g>
<g id="r-parody"><text class="p" x="1603" y="268">Parody/Pastiche</text></g>
<g id="r-city"><text class="p" x="1683" y="306">City (Representations in the Arts)</text></g>
<g id="r-bricolage"><text class="g" x="1575" y="347">Bricolage</text></g>
<g id="r-hiphop"><text class="g" x="1495" y="393">Hip-Hop</text></g>
<g id="r-rap"><text class="g" x="1603" y="426">Rap</text></g>
<g id="r-eclecticism"><text class="p" x="1715" y="384">Eclecticism</text></g>
<g id="r-highlow"><text class="o" x="1781" y="425">High/Low</text></g>
<g id="r-trance"><text class="g" x="1448" y="455">Trance Music</text></g>
<g id="r-graffiti"><text class="o" x="1688" y="463">Graffiti</text></g>
<g id="r-popmusic"><text class="g" x="1418" y="487">Popular Music, Pop Music</text></g>
<g id="r-dj"><text class="g" x="1699" y="495">D.J.</text></g>
<g id="r-abject"><text class="t" x="1809" y="494">Abject</text></g>
<g id="r-techno"><text class="g" x="1571" y="531">Techno</text></g>
<g id="r-rock"><text class="g" x="1705" y="527">Rock</text></g>
<g id="r-classical"><text class="g" x="1845" y="530">Classical</text></g>
<g id="r-minimalism-music"><text class="g" x="1407" y="568">Minimalism (in Music)</text></g>
<g id="r-pop-culture"><text class="c" x="1760" y="567">Pop Culture</text></g>
<g id="r-world-music"><text class="g" x="1514" y="603">World Music</text></g>
<g id="r-standup"><text class="g" x="1346" y="635">Stand-Up Comedy</text></g>
<g id="r-punk"><text class="g" x="1651" y="640">Punk/Postpunk</text></g>
<g id="r-improvisation"><text class="g" x="1470" y="679">Improvisation</text></g>
<g id="r-jazz"><text class="g" x="1753" y="678">Jazz</text></g>
<g id="r-fusion"><text class="g" x="1654" y="703">Fusion</text></g>
<g id="r-appropriation"><text class="t" x="1778" y="740">Appropriation</text></g>
<g id="r-international"><text class="p" x="1798" y="818">International Style</text></g>
<g id="r-comeback"><text class="t" x="1765" y="854">Comeback</text></g>
<g id="r-disney"><text class="p" x="2020" y="203">Disney</text></g>
<g id="r-archive"><text class="p" x="2166" y="183">Archive</text></g>
<g id="r-hyperrealism"><text class="c" x="2378" y="191">Hyperrealism</text></g>
<g id="r-virtual-gaze"><text class="c" x="2440" y="154">Virtual Gaze</text></g>
<g id="r-mtv"><text class="c" x="1941" y="232">MTV</text></g>
<g id="r-video-clip"><text class="c" x="2187" y="228">Video Clip</text></g>
<g id="r-visibility"><text class="c" x="2395" y="237">Visibility</text></g>
<g id="r-las-vegas"><text class="p" x="2005" y="268">Las Vegas</text></g>
<g id="r-event"><text class="p" x="2317" y="273">Event</text></g>
<g id="r-catharsis"><text class="p" x="2552" y="264">Catharsis (Katharsis)</text></g>
<g id="r-simulacra"><text class="p" x="2176" y="307">Simulacra</text></g>
<g id="r-iconology"><text class="c" x="2456" y="305">Iconology</text></g>
<g id="r-popular-culture"><text class="c" x="1897" y="346">Popular Culture</text></g>
<g id="r-shoah"><text class="p" x="2367" y="343">Shoah (Representations in Culture)</text></g>
<g id="r-neo-baroque"><text class="p" x="1932" y="383">Neo-Baroque</text></g>
<g id="r-comics"><text class="c" x="2121" y="380">Comics</text></g>
<g id="r-image"><text class="c" x="2273" y="394">Image</text></g>
<g id="r-visual-culture"><text class="c" x="2651" y="383">Visual Culture and Communication</text></g>
<g id="r-memory"><text class="p" x="2139" y="424">Memory, Collective Memory</text></g>
<g id="r-gestus"><text class="c" x="2470" y="420">Gestus</text></g>
<g id="r-sublime"><text class="p" x="2716" y="425">Sublime/Beautiful</text></g>
<g id="r-nostalgia"><text class="p" x="1950" y="463">Nostalgia</text></g>
<g id="r-genre"><text class="p" x="2115" y="463">Genre</text></g>
<g id="r-representation"><text class="p" x="2442" y="463">Representation</text></g>
<g id="r-kitsch"><text class="p" x="2057" y="499">Kitsch</text></g>
<g id="r-museum"><text class="o" x="2255" y="500">Museum</text></g>
<g id="r-realism"><text class="p" x="2514" y="499">Realism</text></g>
<g id="r-postmodernism"><text class="p" x="2200" y="535">Postmodernism (in the Arts)</text></g>
<g id="r-index"><text class="c" x="2725" y="536">Index-Icon-Symbol</text></g>
<g id="r-mechanical"><text class="c" x="2087" y="573">Mechanical Reproduction</text></g>
<g id="r-modernity"><text class="p" x="1946" y="614">Modernity</text></g>
<g id="r-expressionism"><text class="o" x="2168" y="613">Expressionism</text></g>
<g id="r-pop-art"><text class="c" x="2375" y="613">Pop-Art</text></g>
<g id="r-reflexivity"><text class="p" x="2534" y="573">Reflexivity</text></g>
<g id="r-dirty-realism"><text class="p" x="2598" y="613">Dirty Realism</text></g>
<g id="r-futurism"><text class="o" x="1873" y="650">Futurism</text></g>
<g id="r-dada"><text class="o" x="2010" y="657">Dada</text></g>
<g id="r-junk"><text class="o" x="2109" y="663">Junk</text></g>
<g id="r-surealism"><text class="o" x="2245" y="650">Surealism</text></g>
<g id="r-medium"><text class="o" x="2410" y="650">Medium</text></g>
<g id="r-context"><text class="o" x="2750" y="650">Context of Exhibition</text></g>
<g id="r-recycling"><text class="t" x="1888" y="692">Recycling</text></g>
<g id="r-ready-made"><text class="o" x="2264" y="687">Ready Made</text></g>
<g id="r-aura"><text class="c" x="2427" y="683">Aura</text></g>
<g id="r-multimedia"><text class="o" x="2575" y="683">Multimedia</text></g>
<g id="r-deconstructivism"><text class="p" x="2541" y="716">Deconstructivism</text></g>
<g id="r-avant-garde"><text class="o" x="2057" y="729">Avant-Garde</text></g>
<g id="r-abstract-art"><text class="p" x="2277" y="744">Abstract Art</text></g>
<g id="r-nonsense"><text class="p" x="2567" y="757">Nonsense</text></g>
<g id="r-minimalism-art"><text class="p" x="2114" y="779">Minimalism (in Art and Architecture)</text></g>
<g id="r-conceptual-art"><text class="o" x="2224" y="818">Conceptual Art</text></g>
<g id="r-art-world"><text class="o" x="2465" y="817">Art World</text></g>
<g id="r-bauhaus"><text class="p" x="2012" y="854">Bauhaus</text></g>
<g id="r-constuctivism"><text class="p" x="2217" y="881">Constuctivism</text></g>
</g>
</svg>
